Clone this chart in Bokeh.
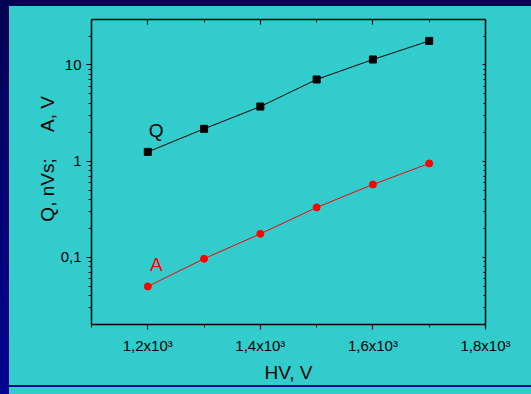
from bokeh.plotting import figure
from bokeh.models import (LinearAxis, LogAxis, FixedTicker, Range1d,
                          ColumnDataSource, Spacer, Column)
from bokeh.embed import file_html
from bokeh.resources import INLINE
from bokeh.core.properties import value

# ---- data ----
hv = [1200, 1300, 1400, 1500, 1600, 1700]
q_vals = [1.25, 2.17, 3.7, 7.07, 11.4, 17.8]
a_vals = [0.050, 0.097, 0.176, 0.331, 0.573, 0.948]

x_ticks = [1200, 1400, 1600, 1800]
x_tick_labels = ["1,2x10³", "1,4x10³", "1,6x10³", "1,8x10³"]
x_minor = [1100, 1300, 1500, 1700]
y_ticks = [0.1, 1, 10]
y_tick_labels = ["0,1", "1", "10"]
y_minor = [0.02, 0.03, 0.04, 0.05, 0.06, 0.07, 0.08, 0.09,
           0.2, 0.3, 0.4, 0.5, 0.6, 0.7, 0.8, 0.9,
           2, 3, 4, 5, 6, 7, 8, 9, 20, 30]

series_names = ["Q", "A"]
label_x = [1215, 1215]
label_y = [2.09, 0.0846]
label_colors = ["black", "red"]

NB = "\u00a0"
y_title = NB * 5 + "Q, nVs;" + NB * 5 + "A, V"
x_title = "HV, V"

FONT = "Liberation Sans"
TEAL = "#33CCCC"

p = figure(width=522, height=379, output_backend="svg", toolbar_location=None,
           y_axis_type="log", x_range=Range1d(1100, 1800), y_range=Range1d(0.0201, 29.7),
           x_axis_location=None, y_axis_location=None,
           min_border_left=82, min_border_right=46, min_border_top=13, min_border_bottom=61)
p.background_fill_color = TEAL
p.border_fill_color = TEAL
p.outline_line_color = None
p.xgrid.visible = False
p.ygrid.visible = False

def style_axis(ax, inside=False):
    ax.axis_line_color = "black"
    ax.axis_line_width = 1.5
    ax.major_tick_line_color = "black"
    ax.minor_tick_line_color = "black"
    ax.major_tick_line_width = 1.2
    ax.minor_tick_line_width = 1
    if inside:
        ax.major_tick_in, ax.major_tick_out = 5, 0
        ax.minor_tick_in, ax.minor_tick_out = 3, 0
    else:
        ax.major_tick_in, ax.major_tick_out = 0, 5
        ax.minor_tick_in, ax.minor_tick_out = 0, 3
    ax.major_label_text_font = FONT
    ax.major_label_text_font_size = "15px"
    ax.major_label_text_color = "black"
    ax.axis_label_text_font = FONT
    ax.axis_label_text_font_size = "19px"
    ax.axis_label_text_font_style = "normal"
    ax.axis_label_text_color = "black"

xb = LinearAxis(ticker=FixedTicker(ticks=x_ticks, minor_ticks=x_minor),
                major_label_overrides=dict(zip(x_ticks, x_tick_labels)),
                axis_label=x_title)
style_axis(xb)
xb.major_label_standoff = 7
xb.axis_label_standoff = 5
p.add_layout(xb, "below")

xt = LinearAxis(ticker=FixedTicker(ticks=x_ticks, minor_ticks=x_minor),
                major_label_overrides={t: "" for t in x_ticks})
style_axis(xt, inside=True)
xt.major_label_text_font_size = "1px"
xt.major_label_standoff = 0
p.add_layout(xt, "above")

yl = LogAxis(ticker=FixedTicker(ticks=y_ticks, minor_ticks=y_minor),
             major_label_overrides=dict(zip(y_ticks, y_tick_labels)),
             axis_label=y_title)
style_axis(yl)
yl.major_label_standoff = 5
yl.axis_label_standoff = 0
p.add_layout(yl, "left")

yr = LogAxis(ticker=FixedTicker(ticks=y_ticks, minor_ticks=y_minor),
             major_label_overrides={t: "" for t in y_ticks})
style_axis(yr, inside=True)
yr.major_tick_in = 3
yr.minor_tick_in = 2
yr.major_label_text_font_size = "1px"
yr.major_label_standoff = 0
p.add_layout(yr, "right")

# series
p.line(hv, q_vals, line_color="black", line_width=1)
p.scatter(hv, q_vals, marker="square", size=7, fill_color="black", line_color="black")
p.line(hv, a_vals, line_color="red", line_width=1)
p.scatter(hv, a_vals, marker="circle", size=7, fill_color="red", line_color="red")

src = ColumnDataSource(dict(x=label_x, y=label_y, t=series_names, c=label_colors))
p.text(x="x", y="y", text="t", text_color="c", source=src,
       text_font=value(FONT), text_font_size="19px",
       text_align="center", text_baseline="middle")

# slide decoration: blue rule under the chart, dark band top and left
rule = Spacer(width=522, height=2, styles={"background-color": "#000099"})
foot = Spacer(width=522, height=7, styles={"background-color": TEAL})
inner = Column(children=[p, rule, foot], spacing=0,
               styles={"background-color": TEAL})
root = Column(children=[inner], spacing=0,
              styles={"background": "linear-gradient(to bottom, #000052, #000092)",
                      "padding-left": "9px", "padding-top": "6px"})

open("out.html", "w").write(file_html(root, INLINE))
